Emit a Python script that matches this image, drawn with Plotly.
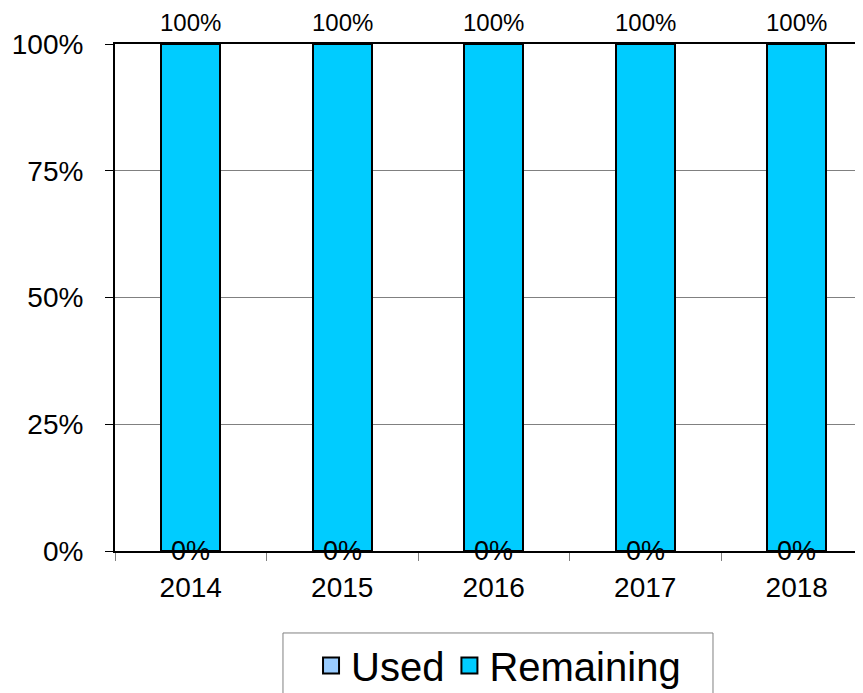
import plotly.graph_objects as go

# Data
years = ["2014", "2015", "2016", "2017", "2018"]
used = [0, 0, 0, 0, 0]
remaining = [100, 100, 100, 100, 100]
used_labels = ["0%", "0%", "0%", "0%", "0%"]
remaining_labels = ["100%", "100%", "100%", "100%", "100%"]

used_color = "#99CCFF"
remaining_color = "#00CCFF"
font_family = "Liberation Sans, Arial, sans-serif"

fig = go.Figure()

fig.add_trace(go.Bar(
    x=years, y=used, name="Used", showlegend=False,
    marker=dict(color=used_color, line=dict(color="black", width=2)),
    width=0.39,
))
fig.add_trace(go.Bar(
    x=years, y=remaining, name="Remaining", showlegend=False,
    marker=dict(color=remaining_color, line=dict(color="black", width=2)),
    width=0.39,
))

# value labels (category index used as x position)
totals = [u + r for u, r in zip(used, remaining)]
annotations = []
for i, (u, lab) in enumerate(zip(used, used_labels)):
    annotations.append(dict(
        x=i, y=u, text=lab, showarrow=False, yanchor="middle",
        font=dict(size=27, color="black"),
    ))
for i, (t, lab) in enumerate(zip(totals, remaining_labels)):
    annotations.append(dict(
        x=i, y=t, text=lab, showarrow=False, yanchor="middle", yshift=22,
        font=dict(size=24, color="black"),
    ))

# legend entries
for name, color in [("Used", used_color), ("Remaining", remaining_color)]:
    fig.add_trace(go.Scatter(
        x=[None], y=[None], mode="markers", name=name,
        marker=dict(symbol="square", size=20, color=color,
                    line=dict(color="black", width=2)),
    ))

fig.update_layout(
    width=863, height=693,
    barmode="stack",
    plot_bgcolor="white", paper_bgcolor="white",
    font=dict(family=font_family, color="black"),
    margin=dict(l=107, r=0, t=36, b=150, autoexpand=False),
    annotations=annotations,
    legend=dict(
        orientation="h", x=0.2593, y=-0.1617, xanchor="left", yanchor="top",
        font=dict(size=40), borderwidth=0, traceorder="normal",
        bgcolor="rgba(0,0,0,0)",
    ),
    shapes=[dict(
        type="rect", xref="paper", yref="paper",
        x0=0.2222, x1=0.791, y0=-0.1617, y1=-0.32,
        line=dict(color="#808080", width=1), fillcolor="white", layer="below",
    )],
)

fig.update_xaxes(
    type="category",
    range=[-0.5, 4.49], showline=True, linecolor="black", linewidth=2,
    mirror=True, ticks="outside", tickson="boundaries", ticklen=8,
    tickcolor="#808080", tickfont=dict(size=28), showgrid=False,
    ticklabelstandoff=10,
)
fig.update_yaxes(
    range=[0, 100], tickvals=[0, 25, 50, 75, 100],
    ticktext=["0%", "25%", "50%", "75%", "100%"],
    showline=True, linecolor="black", linewidth=2,
    ticks="outside", ticklen=8, tickcolor="black",
    tickfont=dict(size=28), gridcolor="#808080", gridwidth=1,
    zeroline=False, ticklabelstandoff=16,
)

fig.write_html("out.html")
